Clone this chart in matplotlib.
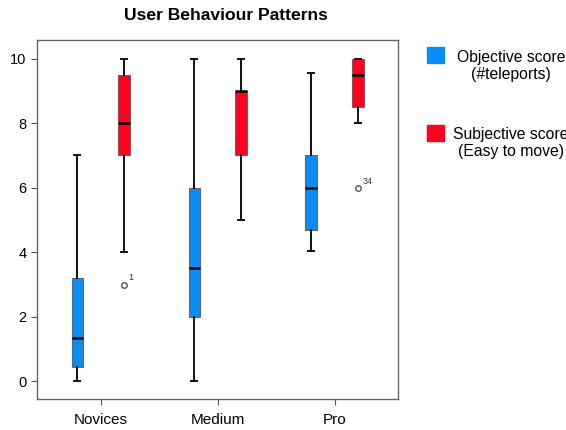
import matplotlib.pyplot as plt
from matplotlib.patches import Rectangle

plt.rcParams['font.family'] = ['Liberation Sans', 'DejaVu Sans']

groups = ["Novices", "Medium", "Pro"]

# objective score (#teleports): whislo, q1, med, q3, whishi
obj_lo = [0.0, 0.0, 4.05]
obj_q1 = [0.45, 2.0, 4.7]
obj_med = [1.35, 3.5, 6.0]
obj_q3 = [3.2, 6.0, 7.0]
obj_hi = [7.0, 10.0, 9.55]

# subjective score (easy to move)
sub_lo = [4.0, 5.0, 8.0]
sub_q1 = [7.0, 7.0, 8.5]
sub_med = [8.0, 9.0, 9.5]
sub_q3 = [9.5, 9.0, 10.0]
sub_hi = [10.0, 10.0, 10.0]
sub_fliers = [[3.0], [], [6.0]]
sub_flier_ids = [["1"], [], ["34"]]

blue = "#0a8cf5"
red = "#ff0020"


def make_stats(lo, q1, med, q3, hi, fliers=None):
    stats = []
    for i in range(len(lo)):
        stats.append(dict(whislo=lo[i], q1=q1[i], med=med[i], q3=q3[i], whishi=hi[i],
                          fliers=fliers[i] if fliers else []))
    return stats


fig = plt.figure(figsize=(5.66, 4.30), dpi=100)
ax = fig.add_axes([0.065, 0.072, 0.638, 0.835])

pos = [1, 2, 3]
off = 0.2
w = 0.1
common = dict(widths=w, patch_artist=True, showfliers=True,
              whiskerprops=dict(color="#111111", lw=1.4),
              capprops=dict(color="#111111", lw=1.4),
              medianprops=dict(color="black", lw=1.8),
              flierprops=dict(marker="o", markersize=4, markerfacecolor="white",
                              markeredgecolor="#555555", markeredgewidth=1.0))

b1 = ax.bxp(make_stats(obj_lo, obj_q1, obj_med, obj_q3, obj_hi),
            positions=[p - off for p in pos], **common)
b2 = ax.bxp(make_stats(sub_lo, sub_q1, sub_med, sub_q3, sub_hi, sub_fliers),
            positions=[p + off for p in pos], **common)
for box in b1["boxes"]:
    box.set_facecolor(blue)
    box.set_edgecolor("#666666")
    box.set_linewidth(0.8)
for box in b2["boxes"]:
    box.set_facecolor(red)
    box.set_edgecolor("#666666")
    box.set_linewidth(0.8)
for cap in b1["caps"] + b2["caps"]:
    x0, x1 = cap.get_xdata()
    c = (x0 + x1) / 2
    cap.set_xdata([c - 0.025, c + 0.025])

for i, p in enumerate(pos):
    for v, lab in zip(sub_fliers[i], sub_flier_ids[i]):
        ax.annotate(lab, (p + off, v), xytext=(3, 3), textcoords="offset points",
                    fontsize=6.5, color="#333333")

ax.set_xlim(0.453, 3.54)
ax.set_ylim(-0.55, 10.58)
ax.set_xticks(pos)
ax.set_xticklabels(groups, fontsize=11)
ax.set_yticks([0, 2, 4, 6, 8, 10])
ax.tick_params(axis="y", labelsize=10.5, length=4, color="#555555")
ax.tick_params(axis="x", length=4, pad=6, color="#555555")
for s in ax.spines.values():
    s.set_color("#666666")
    s.set_linewidth(1.0)

fig.text(226 / 566, 1 - 16 / 430, "User Behaviour Patterns", ha="center", va="center",
         fontsize=12.6, fontweight="bold")

# legend (text runs off the right edge, as in the original)
fig.patches.append(Rectangle((427 / 566, 1 - 63 / 430), 17 / 566, 16 / 430,
                             transform=fig.transFigure, color=blue, figure=fig))
fig.text(511 / 566, 1 - 66 / 430, "Objective score\n(#teleports)", ha="center", va="center",
         fontsize=11.3, linespacing=1.15)
fig.patches.append(Rectangle((427 / 566, 1 - 141 / 430), 17 / 566, 16 / 430,
                             transform=fig.transFigure, color=red, figure=fig))
fig.text(511 / 566, 1 - 143 / 430, "Subjective score\n(Easy to move)", ha="center", va="center",
         fontsize=11.3, linespacing=1.15)

fig.savefig("out.png", dpi=100)
